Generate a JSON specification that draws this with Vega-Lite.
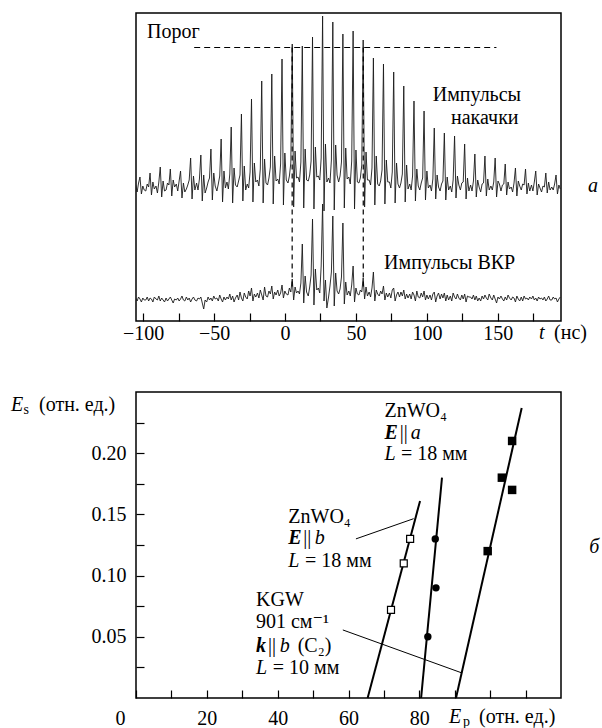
{
  "$schema": "https://vega.github.io/schema/vega-lite/v6.json",
  "background": "white",
  "autosize": {"type": "pad"},
  "padding": {"left": 10, "top": 12, "right": 2, "bottom": 2},
  "bounds": "flush",
  "spacing": 71,
  "datasets": {
    "pulses": [
      {"x":-105.2,"p":136,"r":23},{"x":-104.2,"p":129,"r":20},{"x":-103.2,"p":138,"r":24},{"x":-102.2,"p":144,"r":22},{"x":-101.2,"p":127,"r":19},{"x":-100.2,"p":135,"r":23},{"x":-99.2,"p":131,"r":21},
      {"x":-98.1,"p":130,"r":21},{"x":-97.1,"p":137,"r":24},{"x":-96.1,"p":134,"r":20},{"x":-95.1,"p":148,"r":23},{"x":-94.1,"p":126,"r":22},{"x":-93.1,"p":139,"r":19},{"x":-92.1,"p":132,"r":24},
      {"x":-90.9,"p":135,"r":22},{"x":-89.9,"p":128,"r":21},{"x":-88.9,"p":139,"r":25},{"x":-87.9,"p":154,"r":20},{"x":-86.9,"p":124,"r":23},{"x":-85.9,"p":140,"r":21},{"x":-84.9,"p":130,"r":19},
      {"x":-83.8,"p":131,"r":23},{"x":-82.8,"p":138,"r":20},{"x":-81.8,"p":136,"r":22},{"x":-80.8,"p":152,"r":24},{"x":-79.8,"p":125,"r":21},{"x":-78.8,"p":141,"r":18},{"x":-77.8,"p":134,"r":22},
      {"x":-76.6,"p":137,"r":21},{"x":-75.6,"p":130,"r":23},{"x":-74.6,"p":140,"r":20},{"x":-73.6,"p":150,"r":22},{"x":-72.6,"p":123,"r":25},{"x":-71.6,"p":138,"r":21},{"x":-70.6,"p":129,"r":20},
      {"x":-69.5,"p":132,"r":24},{"x":-68.5,"p":136,"r":21},{"x":-67.5,"p":141,"r":23},{"x":-66.5,"p":163,"r":19},{"x":-65.5,"p":122,"r":22},{"x":-64.5,"p":145,"r":24},{"x":-63.5,"p":131,"r":21},
      {"x":-62.3,"p":138,"r":20},{"x":-61.3,"p":131,"r":23},{"x":-60.3,"p":142,"r":22},{"x":-59.3,"p":166,"r":24},{"x":-58.3,"p":120,"r":18},{"x":-57.3,"p":146,"r":12},{"x":-56.3,"p":128,"r":21},
      {"x":-55.2,"p":133,"r":19},{"x":-54.2,"p":139,"r":24},{"x":-53.2,"p":143,"r":21},{"x":-52.2,"p":172,"r":23},{"x":-51.2,"p":121,"r":20},{"x":-50.2,"p":148,"r":25},{"x":-49.2,"p":135,"r":22},
      {"x":-48,"p":130,"r":23},{"x":-47,"p":137,"r":20},{"x":-46,"p":145,"r":26},{"x":-45,"p":182,"r":22},{"x":-44,"p":119,"r":19},{"x":-43,"p":150,"r":24},{"x":-42,"p":133,"r":21},
      {"x":-40.9,"p":139,"r":24},{"x":-39.9,"p":132,"r":22},{"x":-38.9,"p":147,"r":27},{"x":-37.9,"p":194,"r":21},{"x":-36.9,"p":118,"r":25},{"x":-35.9,"p":153,"r":19},{"x":-34.9,"p":136,"r":23},
      {"x":-33.7,"p":134,"r":26},{"x":-32.7,"p":140,"r":21},{"x":-31.7,"p":146,"r":29},{"x":-30.7,"p":207,"r":23},{"x":-29.7,"p":120,"r":20},{"x":-28.7,"p":155,"r":28},{"x":-27.7,"p":131,"r":24},
      {"x":-26.6,"p":137,"r":22},{"x":-25.6,"p":133,"r":30},{"x":-24.6,"p":149,"r":25},{"x":-23.6,"p":222,"r":33},{"x":-22.6,"p":119,"r":20},{"x":-21.6,"p":158,"r":27},{"x":-20.6,"p":139,"r":24},
      {"x":-19.4,"p":141,"r":28},{"x":-18.4,"p":135,"r":23},{"x":-17.4,"p":152,"r":31},{"x":-16.4,"p":240,"r":26},{"x":-15.4,"p":118,"r":21},{"x":-14.4,"p":162,"r":34},{"x":-13.4,"p":138,"r":25},
      {"x":-12.3,"p":136,"r":24},{"x":-11.3,"p":143,"r":30},{"x":-10.3,"p":154,"r":27},{"x":-9.3,"p":247,"r":35},{"x":-8.3,"p":117,"r":22},{"x":-7.3,"p":165,"r":29},{"x":-6.3,"p":140,"r":26},
      {"x":-5.1,"p":142,"r":31},{"x":-4.1,"p":137,"r":25},{"x":-3.1,"p":157,"r":28},{"x":-2.1,"p":262,"r":36},{"x":-1.1,"p":116,"r":23},{"x":-0.1,"p":168,"r":30},{"x":0.9,"p":141,"r":27},
      {"x":2.1,"p":138,"r":26},{"x":3.1,"p":145,"r":33},{"x":4.1,"p":158,"r":29},{"x":5.1,"p":277,"r":42},{"x":6.1,"p":114,"r":21},{"x":7.1,"p":170,"r":34},{"x":8.1,"p":143,"r":28},
      {"x":9.2,"p":144,"r":30},{"x":10.2,"p":139,"r":27},{"x":11.2,"p":159,"r":38},{"x":12.2,"p":275,"r":77},{"x":13.2,"p":113,"r":18},{"x":14.2,"p":172,"r":45},{"x":15.2,"p":141,"r":29},
      {"x":16.4,"p":140,"r":25},{"x":17.4,"p":146,"r":34},{"x":18.4,"p":160,"r":46},{"x":19.4,"p":284,"r":102},{"x":20.4,"p":112,"r":16},{"x":21.4,"p":174,"r":52},{"x":22.4,"p":144,"r":31},
      {"x":23.5,"p":145,"r":33},{"x":24.5,"p":141,"r":28},{"x":25.5,"p":163,"r":55},{"x":26.5,"p":305,"r":117},{"x":27.5,"p":110,"r":20},{"x":28.5,"p":177,"r":41},{"x":29.5,"p":139,"r":13},
      {"x":30.7,"p":143,"r":24},{"x":31.7,"p":138,"r":35},{"x":32.7,"p":161,"r":49},{"x":33.7,"p":299,"r":105},{"x":34.7,"p":111,"r":15},{"x":35.7,"p":176,"r":48},{"x":36.7,"p":146,"r":30},
      {"x":37.8,"p":139,"r":27},{"x":38.8,"p":145,"r":32},{"x":39.8,"p":159,"r":44},{"x":40.8,"p":287,"r":98},{"x":41.8,"p":113,"r":17},{"x":42.8,"p":173,"r":39},{"x":43.8,"p":142,"r":26},
      {"x":45,"p":144,"r":30},{"x":46,"p":137,"r":25},{"x":47,"p":160,"r":36},{"x":48,"p":290,"r":55},{"x":49,"p":112,"r":19},{"x":50,"p":171,"r":33},{"x":51,"p":139,"r":27},
      {"x":52.1,"p":138,"r":26},{"x":53.1,"p":143,"r":31},{"x":54.1,"p":156,"r":29},{"x":55.1,"p":281,"r":43},{"x":56.1,"p":114,"r":22},{"x":57.1,"p":169,"r":34},{"x":58.1,"p":141,"r":25},
      {"x":59.3,"p":141,"r":29},{"x":60.3,"p":136,"r":24},{"x":61.3,"p":153,"r":33},{"x":62.3,"p":263,"r":49},{"x":63.3,"p":116,"r":20},{"x":64.3,"p":165,"r":31},{"x":65.3,"p":137,"r":27},
      {"x":66.4,"p":135,"r":25},{"x":67.4,"p":140,"r":30},{"x":68.4,"p":151,"r":27},{"x":69.4,"p":257,"r":35},{"x":70.4,"p":117,"r":21},{"x":71.4,"p":161,"r":28},{"x":72.4,"p":139,"r":24},
      {"x":73.6,"p":139,"r":28},{"x":74.6,"p":133,"r":23},{"x":75.6,"p":149,"r":31},{"x":76.6,"p":249,"r":33},{"x":77.6,"p":118,"r":20},{"x":78.6,"p":158,"r":26},{"x":79.6,"p":137,"r":29},
      {"x":80.7,"p":133,"r":24},{"x":81.7,"p":138,"r":29},{"x":82.7,"p":147,"r":25},{"x":83.7,"p":235,"r":31},{"x":84.7,"p":119,"r":22},{"x":85.7,"p":156,"r":27},{"x":86.7,"p":132,"r":23},
      {"x":87.9,"p":137,"r":27},{"x":88.9,"p":131,"r":22},{"x":89.9,"p":145,"r":29},{"x":90.9,"p":220,"r":26},{"x":91.9,"p":120,"r":20},{"x":92.9,"p":152,"r":30},{"x":93.9,"p":135,"r":24},
      {"x":95,"p":131,"r":23},{"x":96,"p":138,"r":28},{"x":97,"p":143,"r":24},{"x":98,"p":210,"r":30},{"x":99,"p":121,"r":21},{"x":100,"p":150,"r":26},{"x":101,"p":133,"r":22},
      {"x":102.2,"p":136,"r":26},{"x":103.2,"p":130,"r":21},{"x":104.2,"p":142,"r":27},{"x":105.2,"p":193,"r":29},{"x":106.2,"p":122,"r":19},{"x":107.2,"p":146,"r":25},{"x":108.2,"p":134,"r":28},
      {"x":109.3,"p":130,"r":22},{"x":110.3,"p":137,"r":27},{"x":111.3,"p":140,"r":23},{"x":112.3,"p":188,"r":28},{"x":113.3,"p":121,"r":20},{"x":114.3,"p":144,"r":26},{"x":115.3,"p":131,"r":21},
      {"x":116.5,"p":135,"r":25},{"x":117.5,"p":129,"r":20},{"x":118.5,"p":141,"r":28},{"x":119.5,"p":185,"r":24},{"x":120.5,"p":123,"r":22},{"x":121.5,"p":145,"r":27},{"x":122.5,"p":136,"r":23},
      {"x":123.6,"p":131,"r":21},{"x":124.6,"p":138,"r":26},{"x":125.6,"p":139,"r":22},{"x":126.6,"p":177,"r":27},{"x":127.6,"p":122,"r":19},{"x":128.6,"p":143,"r":25},{"x":129.6,"p":130,"r":24},
      {"x":130.8,"p":136,"r":24},{"x":131.8,"p":130,"r":22},{"x":132.8,"p":140,"r":26},{"x":133.8,"p":167,"r":21},{"x":134.8,"p":124,"r":25},{"x":135.8,"p":141,"r":20},{"x":136.8,"p":134,"r":23},
      {"x":137.9,"p":129,"r":20},{"x":138.9,"p":137,"r":25},{"x":139.9,"p":138,"r":22},{"x":140.9,"p":165,"r":26},{"x":141.9,"p":125,"r":23},{"x":142.9,"p":142,"r":21},{"x":143.9,"p":131,"r":27},
      {"x":145.1,"p":135,"r":23},{"x":146.1,"p":131,"r":21},{"x":147.1,"p":139,"r":26},{"x":148.1,"p":163,"r":22},{"x":149.1,"p":124,"r":18},{"x":150.1,"p":140,"r":24},{"x":151.1,"p":137,"r":22},
      {"x":152.2,"p":130,"r":25},{"x":153.2,"p":136,"r":22},{"x":154.2,"p":137,"r":20},{"x":155.2,"p":157,"r":24},{"x":156.2,"p":126,"r":21},{"x":157.2,"p":139,"r":26},{"x":158.2,"p":132,"r":23},
      {"x":159.4,"p":134,"r":21},{"x":160.4,"p":129,"r":24},{"x":161.4,"p":138,"r":23},{"x":162.4,"p":153,"r":19},{"x":163.4,"p":125,"r":25},{"x":164.4,"p":140,"r":22},{"x":165.4,"p":135,"r":20},
      {"x":166.5,"p":131,"r":24},{"x":167.5,"p":137,"r":20},{"x":168.5,"p":136,"r":25},{"x":169.5,"p":152,"r":22},{"x":170.5,"p":127,"r":23},{"x":171.5,"p":138,"r":21},{"x":172.5,"p":130,"r":24},
      {"x":173.7,"p":136,"r":22},{"x":174.7,"p":130,"r":25},{"x":175.7,"p":139,"r":21},{"x":176.7,"p":150,"r":23},{"x":177.7,"p":126,"r":20},{"x":178.7,"p":137,"r":24},{"x":179.7,"p":133,"r":22},
      {"x":180.8,"p":129,"r":23},{"x":181.8,"p":135,"r":21},{"x":182.8,"p":134,"r":24},{"x":183.8,"p":148,"r":20},{"x":184.8,"p":128,"r":22},{"x":185.8,"p":139,"r":25},{"x":186.8,"p":131,"r":21},
      {"x":188,"p":134,"r":21},{"x":189,"p":131,"r":24},{"x":190,"p":137,"r":22},{"x":191,"p":146,"r":23},{"x":192,"p":127,"r":19},{"x":193,"p":136,"r":22},{"x":194,"p":132,"r":24}
    ],
    "threshold": [{"x": -64, "x2": 149, "y": 273.5}],
    "gates": [{"x": 5.05, "y": 273.5, "y2": 33}, {"x": 55.15, "y": 273.5, "y2": 33}],
    "top_text": [
      {"x": -97.25, "y": 283, "text": "Порог"},
      {"x": 104.1, "y": 220.5, "text": "Импульсы"},
      {"x": 117.0, "y": 197.3, "text": "накачки"},
      {"x": 69.8, "y": 51.7, "text": "Импульсы ВКР"},
      {"x": 189.6, "y": -18, "text": "(нс)"}
    ],
    "top_italic": [
      {"x": 179.0, "y": -18, "text": "t"},
      {"x": 213.5, "y": 129, "text": "а"}
    ],
    "fits": [
      {"sample": "ZnWO4 E||b", "x": 65.4, "y": 0}, {"sample": "ZnWO4 E||b", "x": 80.2, "y": 0.161},
      {"sample": "KGW", "x": 80.5, "y": 0}, {"sample": "KGW", "x": 86.4, "y": 0.18},
      {"sample": "ZnWO4 E||a", "x": 90.35, "y": 0}, {"sample": "ZnWO4 E||a", "x": 108.9, "y": 0.237}
    ],
    "leaders": [
      {"label": "ZnWO4 E||b", "x": 62.1, "y": 0.130}, {"label": "ZnWO4 E||b", "x": 78.4, "y": 0.1465},
      {"label": "KGW", "x": 58.4, "y": 0.0556}, {"label": "KGW", "x": 91.8, "y": 0.0207}
    ],
    "znwo4_b": [{"x": 72.0, "y": 0.072}, {"x": 75.6, "y": 0.11}, {"x": 77.4, "y": 0.13}],
    "kgw": [{"x": 82.4, "y": 0.05}, {"x": 84.7, "y": 0.09}, {"x": 84.5, "y": 0.13}],
    "znwo4_a": [{"x": 99.3, "y": 0.12}, {"x": 103.3, "y": 0.18}, {"x": 106.2, "y": 0.21}, {"x": 106.2, "y": 0.17}],
    "bot_text": [
      {"x": 70.15, "y": 0.2296, "text": "ZnWO₄"},
      {"x": 74.5, "y": 0.2114, "text": "||"},
      {"x": 74.8, "y": 0.1942, "text": "= 18 мм"},
      {"x": 43.0, "y": 0.1432, "text": "ZnWO₄"},
      {"x": 47.2, "y": 0.1261, "text": "||"},
      {"x": 47.72, "y": 0.1073, "text": "= 18 мм"},
      {"x": 33.88, "y": 0.0752, "text": "KGW"},
      {"x": 33.88, "y": 0.0574, "text": "901 см⁻¹"},
      {"x": 37.3, "y": 0.0375, "text": "||"},
      {"x": 45.66, "y": 0.0375, "text": "(C₂)"},
      {"x": 38.6, "y": 0.0199, "text": "= 10 мм"},
      {"x": -27.39, "y": 0.2345, "text": "(отн. ед.)"},
      {"x": 96.85, "y": -0.0205, "text": "(отн. ед.)"}
    ],
    "bot_italic": [
      {"x": 77.6, "y": 0.2114, "text": "a"},
      {"x": 70.15, "y": 0.1942, "text": "L"},
      {"x": 50.5, "y": 0.1261, "text": "b"},
      {"x": 43.0, "y": 0.1073, "text": "L"},
      {"x": 40.6, "y": 0.0375, "text": "b"},
      {"x": 33.88, "y": 0.0199, "text": "L"},
      {"x": -35.3, "y": 0.2345, "text": "E"},
      {"x": 88.37, "y": -0.0205, "text": "E"},
      {"x": 128.0, "y": 0.1185, "text": "б"}
    ],
    "bot_bolditalic": [
      {"x": 70.15, "y": 0.2114, "text": "E"},
      {"x": 43.0, "y": 0.1261, "text": "E"},
      {"x": 33.88, "y": 0.0375, "text": "k"}
    ],
    "bot_sub": [
      {"x": -31.76, "y": 0.232, "text": "s"},
      {"x": 92.33, "y": -0.0227, "text": "p"}
    ]
  },
  "vconcat": [
    {
      "width": 425,
      "height": 308,
      "encoding": {
        "x": {
          "field": "x", "type": "quantitative",
          "scale": {"domain": [-105, 194.5], "nice": false, "zero": false},
          "axis": {
            "values": [-100, -75, -50, -25, 0, 25, 50, 75, 100, 125, 150, 175],
            "labelExpr": "datum.value % 50 === 0 ? datum.label : ''",
            "labelPadding": 10.2,
            "title": null
          }
        },
        "y": {
          "field": "y", "type": "quantitative",
          "scale": {"domain": [0, 308], "nice": false, "zero": false},
          "axis": null
        }
      },
      "layer": [
        {
          "data": {"name": "pulses"},
          "mark": {"type": "line", "stroke": "#1a1a1a", "strokeWidth": 0.9, "clip": true},
          "encoding": {"y": {"field": "p", "type": "quantitative", "scale": {"domain": [0, 308], "nice": false, "zero": false}, "axis": null}}
        },
        {
          "data": {"name": "pulses"},
          "mark": {"type": "line", "stroke": "#1a1a1a", "strokeWidth": 0.9, "clip": true},
          "encoding": {"y": {"field": "r", "type": "quantitative", "scale": {"domain": [0, 308], "nice": false, "zero": false}, "axis": null}}
        },
        {
          "data": {"name": "threshold"},
          "mark": {"type": "rule", "color": "black", "strokeWidth": 1.2, "strokeDash": [6, 4]},
          "encoding": {"x2": {"field": "x2"}}
        },
        {
          "data": {"name": "gates"},
          "mark": {"type": "rule", "color": "black", "strokeWidth": 1.2, "strokeDash": [5, 4]},
          "encoding": {"y2": {"field": "y2"}}
        },
        {
          "data": {"name": "top_text"},
          "mark": {"type": "text", "align": "left", "baseline": "alphabetic", "font": "Liberation Serif, DejaVu Serif, serif", "fontSize": 20, "color": "black"},
          "encoding": {"text": {"field": "text"}}
        },
        {
          "data": {"name": "top_italic"},
          "mark": {"type": "text", "align": "left", "baseline": "alphabetic", "font": "Liberation Serif, DejaVu Serif, serif", "fontSize": 20, "fontStyle": "italic", "color": "black"},
          "encoding": {"text": {"field": "text"}}
        }
      ]
    },
    {
      "width": 425,
      "height": 306,
      "encoding": {
        "x": {
          "field": "x", "type": "quantitative",
          "scale": {"domain": [0, 120], "nice": false, "zero": false},
          "axis": {
            "values": [0, 10, 20, 30, 40, 50, 60, 70, 80, 90, 100, 110],
            "labelExpr": "(datum.value % 20 === 0 && datum.value <= 80) ? datum.label : ''",
            "labelPadding": 18.8,
            "labelOffset": {"condition": {"test": "datum.value === 0", "value": -16}, "value": 0},
            "title": null
          }
        },
        "y": {
          "field": "y", "type": "quantitative",
          "scale": {"domain": [0, 0.25], "nice": false, "zero": false},
          "axis": {
            "values": [0.025, 0.05, 0.075, 0.1, 0.125, 0.15, 0.175, 0.2, 0.225],
            "labelExpr": "round(datum.value * 1000) % 50 === 0 ? format(datum.value, '.2f') : ''",
            "labelPadding": 18,
            "title": null
          }
        }
      },
      "layer": [
        {
          "data": {"name": "fits"},
          "mark": {"type": "line", "color": "black", "strokeWidth": 2},
          "encoding": {"detail": {"field": "sample"}}
        },
        {
          "data": {"name": "leaders"},
          "mark": {"type": "line", "color": "black", "strokeWidth": 1},
          "encoding": {"detail": {"field": "label"}}
        },
        {
          "data": {"name": "znwo4_b"},
          "mark": {"type": "point", "shape": "square", "filled": true, "fill": "white", "stroke": "black", "strokeWidth": 1.2, "size": 49, "opacity": 1},
          "encoding": {}
        },
        {
          "data": {"name": "kgw"},
          "mark": {"type": "point", "shape": "circle", "filled": true, "color": "black", "size": 55, "opacity": 1},
          "encoding": {}
        },
        {
          "data": {"name": "znwo4_a"},
          "mark": {"type": "point", "shape": "square", "filled": true, "color": "black", "size": 72, "opacity": 1},
          "encoding": {}
        },
        {
          "data": {"name": "bot_text"},
          "mark": {"type": "text", "align": "left", "baseline": "alphabetic", "font": "Liberation Serif, DejaVu Serif, serif", "fontSize": 20, "color": "black"},
          "encoding": {"text": {"field": "text"}}
        },
        {
          "data": {"name": "bot_italic"},
          "mark": {"type": "text", "align": "left", "baseline": "alphabetic", "font": "Liberation Serif, DejaVu Serif, serif", "fontSize": 20, "fontStyle": "italic", "color": "black"},
          "encoding": {"text": {"field": "text"}}
        },
        {
          "data": {"name": "bot_bolditalic"},
          "mark": {"type": "text", "align": "left", "baseline": "alphabetic", "font": "Liberation Serif, DejaVu Serif, serif", "fontSize": 20, "fontStyle": "italic", "fontWeight": "bold", "color": "black"},
          "encoding": {"text": {"field": "text"}}
        },
        {
          "data": {"name": "bot_sub"},
          "mark": {"type": "text", "align": "left", "baseline": "alphabetic", "font": "Liberation Serif, DejaVu Serif, serif", "fontSize": 14, "color": "black"},
          "encoding": {"text": {"field": "text"}}
        }
      ]
    }
  ],
  "config": {
    "view": {"stroke": "black", "strokeWidth": 1.5},
    "axis": {
      "domain": false,
      "grid": false,
      "tickColor": "black",
      "tickWidth": 1.2,
      "tickSize": -8,
      "labelFont": "Liberation Serif, DejaVu Serif, serif",
      "labelFontSize": 20,
      "labelColor": "black",
      "labelFlush": false,
      "labelOverlap": false,
      "labelBound": false
    }
  }
}
